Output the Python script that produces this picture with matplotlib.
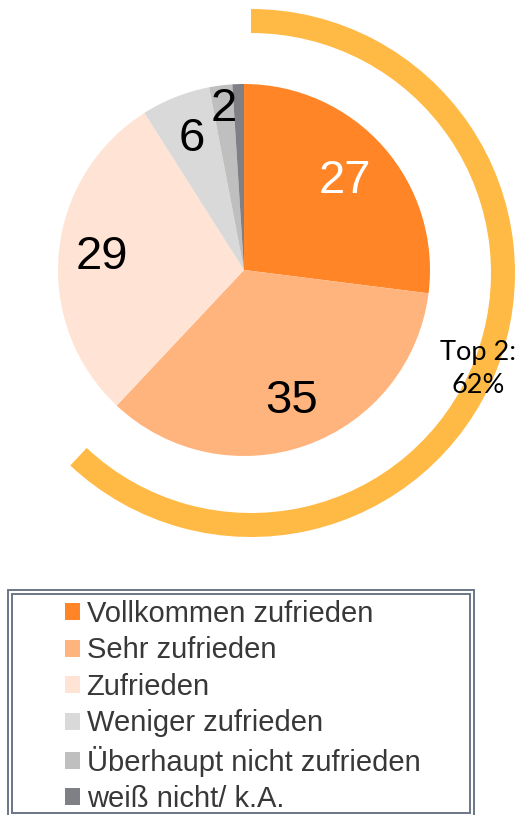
import numpy as np
import matplotlib
matplotlib.use("Agg")
import matplotlib.pyplot as plt
from matplotlib.patches import Wedge, Rectangle

# data
categories = ["Vollkommen zufrieden", "Sehr zufrieden", "Zufrieden",
              "Weniger zufrieden", "Überhaupt nicht zufrieden", "weiß nicht/ k.A."]
values = [27, 35, 29, 6, 2, 1]
colors = ["#FF8526", "#FFB47D", "#FFE4D5", "#D9D9D9", "#BFBFBF", "#7F7F86"]
label_colors = ["white", "black", "black", "black", "black", None]
label_dist = [0.72, 0.75, 0.77, 0.76, 0.87, None]
top2_text = "Top 2:\n62%"

W, H = 519, 815
fig = plt.figure(figsize=(W / 100, H / 100), dpi=100)
ax = fig.add_axes([0, 0, 1, 1])

# pixel coords, y flipped
pie_c = (244, H - 270)
pie_r = 186
wedges, _ = ax.pie(values, colors=colors, startangle=90, counterclock=False,
                   center=pie_c, radius=pie_r, wedgeprops=dict(linewidth=0))
ax.set_xlim(0, W)
ax.set_ylim(0, H)
ax.set_aspect("equal")
ax.axis("off")

# value labels
cum = np.cumsum([0] + values)
total = sum(values)
for i, v in enumerate(values):
    if label_dist[i] is None:
        continue
    mid = np.deg2rad(90 - (cum[i] + v / 2) / total * 360)
    d = label_dist[i] * pie_r
    ax.text(pie_c[0] + d * np.cos(mid), pie_c[1] + d * np.sin(mid), str(v),
            ha="center", va="center", fontsize=34, family="Liberation Sans",
            color=label_colors[i])

# top-2 arc
top2 = (values[0] + values[1]) / total
arc = Wedge((251, H - 273), 264, 90 - top2 * 360, 90, width=24,
            facecolor="#FFBA45", edgecolor="none")
ax.add_patch(arc)
ax.text(478, H - 369, top2_text, ha="center", va="center", fontsize=19.5,
        family="Lato", color="black", linespacing=1.4)

# legend with double frame
fs = 21
leg = ax.legend(wedges, categories, loc="upper left",
                bbox_to_anchor=(65 / W, (H - 600) / H), bbox_transform=fig.transFigure,
                frameon=False, handlelength=0.52, handleheight=0.52,
                handletextpad=0.22, labelspacing=0.29, borderpad=0, borderaxespad=0,
                prop={"family": "Liberation Sans", "size": fs})
for t in leg.get_texts():
    t.set_color("#383838")
for off in (0, 4):
    ax.add_patch(Rectangle((7.5 + off, H - 817 + off), 466 - 2 * off, 227 - 2 * off,
                           fill=False, edgecolor="#6A7686", linewidth=1.4))

fig.savefig("out.png", dpi=100)
